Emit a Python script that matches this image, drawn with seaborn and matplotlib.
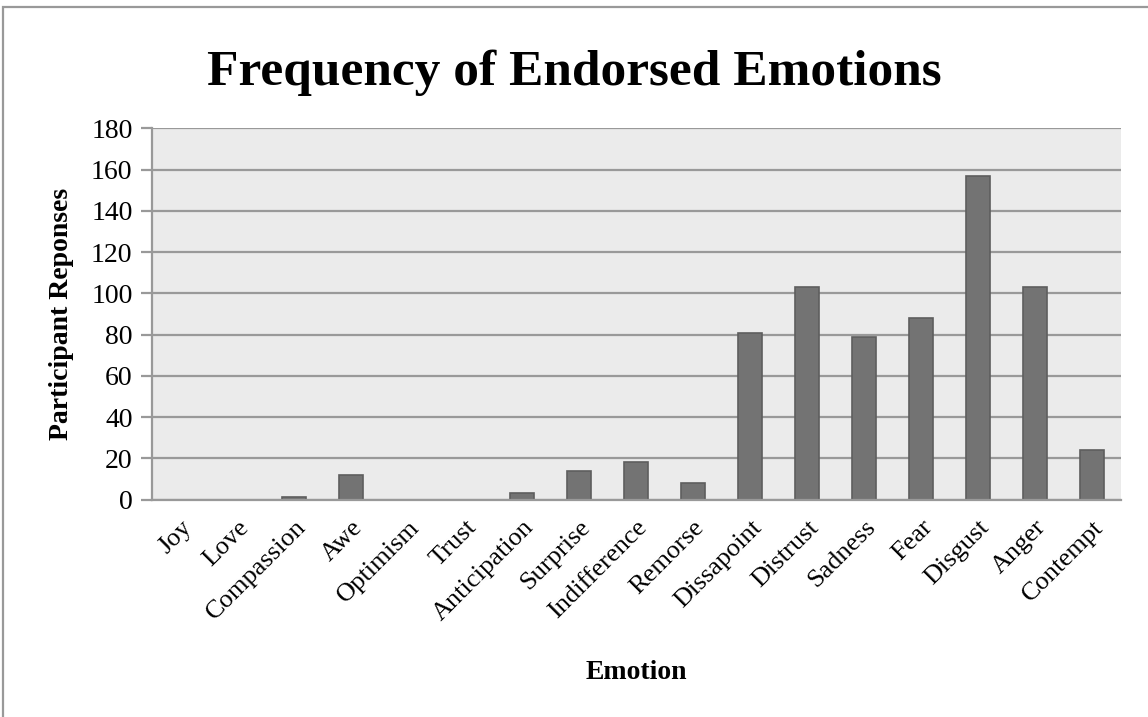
import matplotlib
matplotlib.use("Agg")
import matplotlib.pyplot as plt
import seaborn as sns
import pandas as pd
from matplotlib.patches import Rectangle

# chart data
emotions = ["Joy", "Love", "Compassion", "Awe", "Optimism", "Trust", "Anticipation",
            "Surprise", "Indifference", "Remorse", "Dissapoint", "Distrust", "Sadness",
            "Fear", "Disgust", "Anger", "Contempt"]
responses = [0, 0, 1, 12, 0, 0, 3, 14, 18, 8, 81, 103, 79, 88, 157, 103, 24]
y_ticks = [0, 20, 40, 60, 80, 100, 120, 140, 160, 180]

df = pd.DataFrame({"Emotion": emotions, "Responses": responses})

sns.set_style("white")
plt.rcParams["font.family"] = ["Liberation Serif", "DejaVu Serif"]
plt.rcParams["text.color"] = "black"
plt.rcParams["xtick.color"] = "black"
plt.rcParams["ytick.color"] = "black"
plt.rcParams["axes.labelcolor"] = "black"

fig = plt.figure(figsize=(11.48, 7.17), dpi=100)
ax = fig.add_axes([0.1324, 0.3033, 0.8437, 0.5175])
ax.set_facecolor("#ebebeb")

sns.barplot(data=df, x="Emotion", y="Responses", color="#737373", width=0.42,
            edgecolor="#5e5e5e", linewidth=1.2, saturation=1, ax=ax, zorder=3)

ax.set_ylim(0, 180)
ax.set_yticks(y_ticks)
ax.yaxis.grid(True, color="#999999", linewidth=1.6, zorder=0)
ax.set_axisbelow(True)

for side in ["top", "right"]:
    ax.spines[side].set_visible(False)
for side in ["left", "bottom"]:
    ax.spines[side].set_color("#999999")
    ax.spines[side].set_linewidth(1.6)
    ax.spines[side].set_zorder(4)

ax.tick_params(axis="y", length=8, width=1.6, color="#999999", labelcolor="black",
               labelsize=20, pad=6, left=True)
ax.tick_params(axis="x", length=0, labelsize=19, pad=12, labelcolor="black")
plt.setp(ax.get_xticklabels(), rotation=45, ha="right", rotation_mode="anchor")

ax.set_xlabel("Emotion", fontsize=20, fontweight="bold", labelpad=25)
ax.set_ylabel("Participant Reponses", fontsize=20, fontweight="bold", labelpad=12)

fig.text(0.5, 0.899, "Frequency of Endorsed Emotions", ha="center", va="center",
         fontsize=37, fontweight="bold")

# outer chart frame (only top and left are visible in the reference)
fig.add_artist(Rectangle((0.003, -0.05), 1.1, 1.04, transform=fig.transFigure,
                         fill=False, edgecolor="#999999", linewidth=1.6))

fig.savefig("out.png", dpi=100)
